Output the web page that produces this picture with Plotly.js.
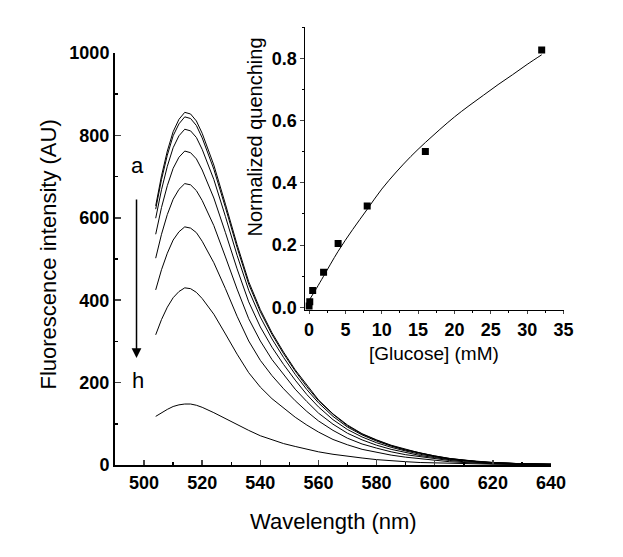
<!DOCTYPE html>
<html>
<head>
<meta charset="utf-8">
<script src="https://cdn.plot.ly/plotly-3.0.1.min.js"></script>
<style>html,body{margin:0;padding:0;background:#fff;}#chart{width:623px;height:557px;}</style>
</head>
<body>
<div id="chart"></div>
<script>
const wavelength = [504,506,508,510,512,514,516,518,520,524,528,532,536,540,544,548,552,556,560,565,570,575,580,585,590,595,600,605,610,615,620,630,640];
const curveA = [629,702,762,809,839,856,852,835,805,728,633,535,445,377,321,274,231,193,158,124,97,76,61,48,38,29,22,16,12,9,6,3,2];
const curveB = [621,693,752,799,828,845,841,824,794,718,625,528,439,372,317,270,228,190,156,123,95,75,60,47,37,29,22,16,12,8,6,3,2];
const curveC = [599,668,725,770,799,815,811,795,766,693,603,509,424,359,306,261,220,183,151,118,92,73,58,46,36,28,21,15,11,8,6,3,2];
const curveD = [560,625,678,720,747,762,758,743,716,648,564,476,396,335,286,244,206,171,141,110,86,68,54,43,34,26,20,14,11,8,5,3,2];
const curveE = [502,560,608,645,669,683,680,666,642,581,505,427,355,301,256,219,184,154,126,99,77,61,48,38,30,23,18,13,10,7,5,3,1];
const curveF = [425,474,514,546,566,578,575,564,543,491,428,361,301,254,217,185,156,130,107,84,65,51,41,32,25,20,15,11,8,6,4,2,1];
const curveG = [316,353,383,406,421,430,428,419,404,366,318,269,224,189,161,138,116,97,80,62,49,38,31,24,19,15,11,8,6,4,3,2,1];
const curveH = [118,127,135,142,146,148,148,145,140,127,112,97,84,71,61,52,45,38,32,26,21,17,13,10,8,6,5,4,3,2,2,1,0];

const glucose = [0,0.1,0.5,2,4,8,16,32];
const quenching = [0.004,0.018,0.054,0.113,0.205,0.326,0.501,0.827];
const fitGlucose = [0,1,2,4,6,8,10,12,14,16,18,20,22,24,26,28,30,32];
const fitQuenching = [0.022,0.06,0.10,0.18,0.25,0.315,0.38,0.435,0.485,0.53,0.572,0.612,0.648,0.682,0.716,0.748,0.781,0.812];

const xTitle = 'Wavelength (nm)';
const yTitle = 'Fluorescence intensity (AU)';
const insetXTitle = '[Glucose] (mM)';
const insetYTitle = 'Normalized quenching';

const FONT = 'Liberation Sans, Arial, sans-serif';
const curves = [curveA,curveB,curveC,curveD,curveE,curveF,curveG,curveH];
const traces = curves.map(c => ({
  x: wavelength, y: c, type: 'scatter', mode: 'lines',
  line: {color: '#000', width: 1}, xaxis: 'x', yaxis: 'y', hoverinfo: 'skip'
}));
traces.push({
  x: fitGlucose, y: fitQuenching, type: 'scatter', mode: 'lines',
  line: {color: '#000', width: 1, shape: 'spline'}, xaxis: 'x2', yaxis: 'y2'
});
traces.push({
  x: glucose, y: quenching, type: 'scatter', mode: 'markers',
  marker: {symbol: 'square', size: 7, color: '#000'}, xaxis: 'x2', yaxis: 'y2'
});

const tickFont = {family: FONT, size: 18, color: '#000', weight: 700};
const ann = (text, x, y, size, angle) => ({
  text: text, xref: 'paper', yref: 'paper', x: x / 623, y: (557 - y) / 557,
  xanchor: 'center', yanchor: 'middle', showarrow: false, textangle: angle || 0,
  font: {family: FONT, size: size, color: '#000'}
});
const layout = {
  width: 623, height: 557,
  margin: {l: 0, r: 0, t: 0, b: 0},
  paper_bgcolor: '#fff', plot_bgcolor: 'rgba(0,0,0,0)',
  showlegend: false,
  xaxis: {
    domain: [115/623, 551/623], range: [490, 640], anchor: 'y',
    dtick: 20, tick0: 500, ticks: 'inside', ticklen: 5, tickwidth: 1.5,
    showline: true, linewidth: 2, linecolor: '#000', showgrid: false, zeroline: false,
    tickfont: tickFont,
    minor: {dtick: 10, ticks: 'inside', ticklen: 3, tickwidth: 1.5, tickcolor: '#000'}
  },
  yaxis: {
    domain: [(557-465)/557, (557-53)/557], range: [0, 1000], anchor: 'x',
    dtick: 200, ticks: 'inside', ticklen: 6, tickwidth: 1.5,
    showline: true, linewidth: 2, linecolor: '#000', showgrid: false, zeroline: false,
    tickfont: tickFont,
    minor: {dtick: 100, ticks: 'inside', ticklen: 3, tickwidth: 1.5, tickcolor: '#000'}
  },
  xaxis2: {
    domain: [305.4/623, 563.5/623], range: [-0.5, 35], anchor: 'y2',
    dtick: 5, tick0: 0, ticks: 'outside', ticklen: 3, tickwidth: 1,
    showline: true, linewidth: 1, linecolor: '#000', showgrid: false, zeroline: false,
    tickfont: tickFont,
    minor: {dtick: 2.5, ticks: 'outside', ticklen: 2, tickwidth: 1, tickcolor: '#000'}
  },
  yaxis2: {
    domain: [(557-310.4)/557, (557-27.4)/557], range: [-0.01, 0.9], anchor: 'x2',
    dtick: 0.2, tick0: 0, tickformat: '.1f', ticks: 'outside', ticklen: 4, tickwidth: 1,
    showline: true, linewidth: 1, linecolor: '#000', showgrid: false, zeroline: false,
    tickfont: tickFont,
    minor: {dtick: 0.1, ticks: 'outside', ticklen: 2, tickwidth: 1, tickcolor: '#000'}
  },
  annotations: [
    ann(xTitle, 333, 521, 22),
    ann(yTitle, 47.5, 255, 22, -90),
    ann(insetXTitle, 434, 353, 19),
    ann(insetYTitle, 255, 137.5, 20, -90),
    {text: 'a', xref: 'x', yref: 'y', x: 497.8, y: 728, xanchor: 'center', yanchor: 'middle', showarrow: false,
     font: {family: FONT, size: 22, color: '#000'}},
    {text: 'h', xref: 'x', yref: 'y', x: 498, y: 204, xanchor: 'center', yanchor: 'middle', showarrow: false,
     font: {family: FONT, size: 22, color: '#000'}},
    {text: '', xref: 'x', yref: 'y', x: 497.4, y: 260, axref: 'x', ayref: 'y', ax: 497.4, ay: 648,
     showarrow: true, arrowhead: 2, arrowsize: 1.3, arrowwidth: 1.5, arrowcolor: '#000', standoff: 0}
  ]
};
Plotly.newPlot('chart', traces, layout, {displayModeBar: false, staticPlot: true});
</script>
</body>
</html>
